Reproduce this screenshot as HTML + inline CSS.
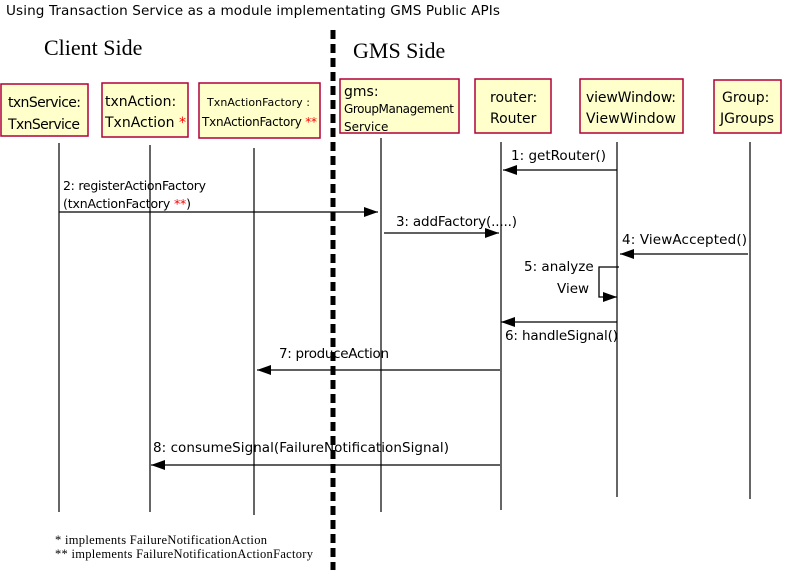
<!DOCTYPE html>
<html><head><style>body{margin:0;background:#fff}svg{display:block}</style></head>
<body>
<svg width="785" height="575" xmlns="http://www.w3.org/2000/svg" font-family="'DejaVu Sans', 'Liberation Sans', sans-serif">
<defs><marker id="a" markerWidth="14" markerHeight="10" refX="14" refY="5" orient="auto" markerUnits="userSpaceOnUse"><path d="M0,0 L14,5 L0,10 Z" fill="#000"/></marker></defs>
<text x="6" y="15" font-size="13.6" textLength="494">Using Transaction Service as a module implementating GMS Public APIs</text>
<text x="44" y="55" font-size="22" font-family="'Liberation Serif',serif">Client Side</text>
<text x="353" y="58" font-size="22" font-family="'Liberation Serif',serif">GMS Side</text>
<line x1="333" y1="30" x2="333" y2="570" stroke="#000" stroke-width="5" stroke-dasharray="9,5"/>
<g fill="#ffffcc" stroke="#b0003a" stroke-width="1.5">
<rect x="1" y="84" width="87" height="52"/><rect x="102" y="83" width="86" height="54"/><rect x="199" y="83" width="121" height="55"/>
<rect x="340" y="79" width="119" height="54"/><rect x="475" y="79" width="76" height="54"/><rect x="580" y="79" width="103" height="54"/><rect x="714" y="80" width="67" height="53"/>
</g>
<g font-size="14">
<text x="8" y="107" textLength="73">txnService:</text><text x="8" y="129" textLength="72">TxnService</text>
<text x="105" y="106">txnAction:</text><text x="105" y="127">TxnAction <tspan fill="red">*</tspan></text>
<text x="207" y="106" font-size="11" textLength="103">TxnActionFactory :</text><text x="202" y="126" font-size="12" textLength="115">TxnActionFactory <tspan fill="red">**</tspan></text>
<text x="344" y="96">gms:</text><text x="344" y="113" font-size="12" textLength="110">GroupManagement</text><text x="344" y="131" font-size="12">Service</text>
<text x="490" y="102">router:</text><text x="490" y="123">Router</text>
<text x="586" y="102" textLength="90">viewWindow:</text><text x="586" y="123" textLength="90">ViewWindow</text>
<text x="722" y="102">Group:</text><text x="720" y="123">JGroups</text>
</g>
<g stroke="#000" stroke-width="1.2">
<line x1="59" y1="143" x2="59" y2="512"/><line x1="150" y1="145" x2="150" y2="512"/><line x1="254" y1="148" x2="254" y2="515"/>
<line x1="381" y1="138" x2="381" y2="512"/><line x1="501" y1="142" x2="501" y2="510"/><line x1="617" y1="142" x2="617" y2="497"/><line x1="750" y1="142" x2="750" y2="499"/>
</g>
<g stroke="#000" stroke-width="1.3" fill="none" marker-end="url(#a)">
<line x1="617" y1="170" x2="503" y2="170"/>
<line x1="59" y1="212" x2="378" y2="212"/>
<line x1="384" y1="233" x2="499" y2="233"/>
<line x1="748" y1="254" x2="620" y2="254"/>
<polyline points="619,267 599,267 599,297 617,297"/>
<line x1="617" y1="322" x2="501" y2="322"/>
<line x1="500" y1="370" x2="257" y2="370"/>
<line x1="500" y1="465" x2="151" y2="465"/>
</g>
<g font-size="13.5">
<text x="511" y="160" textLength="95">1: getRouter()</text>
<text x="63" y="190" font-size="12.5" textLength="143">2: registerActionFactory</text>
<text x="63" y="208" font-size="12.5" textLength="128">(txnActionFactory <tspan fill="red">**</tspan>)</text>
<text x="396" y="226" textLength="121">3: addFactory(.....)</text>
<text x="622" y="244" textLength="125">4: ViewAccepted()</text>
<text x="524" y="271">5: analyze</text><text x="557" y="293">View</text>
<text x="505" y="340" textLength="113">6: handleSignal()</text>
<text x="279" y="358" textLength="110">7: produceAction</text>
<text x="153" y="452" textLength="296">8: consumeSignal(FailureNotificationSignal)</text>
</g>
<g font-size="12.5" font-family="'Liberation Serif',serif">
<text x="55" y="544" textLength="212">* implements FailureNotificationAction</text>
<text x="55" y="558" textLength="258">** implements FailureNotificationActionFactory</text>
</g>
</svg>
</body></html>
